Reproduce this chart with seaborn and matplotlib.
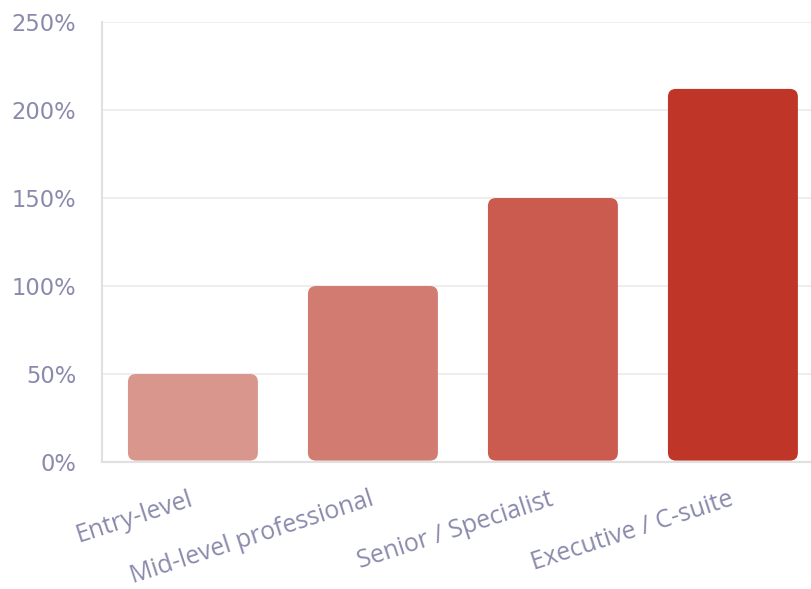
import matplotlib
matplotlib.use("Agg")
import matplotlib.pyplot as plt
import matplotlib.transforms as mtrans
import seaborn as sns
import pandas as pd
from matplotlib.patches import FancyBboxPatch
from matplotlib.ticker import FuncFormatter

categories = ["Entry-level", "Mid-level professional", "Senior / Specialist", "Executive / C-suite"]
values = [50, 100, 150, 212]
colors = ["#d9968d", "#d27b71", "#cb5b4f", "#bf3629"]
yticks = [0, 50, 100, 150, 200, 250]

sns.set_theme(style="white")
plt.rcParams['font.family'] = ['DejaVu Sans']

df = pd.DataFrame({"level": categories, "pct": values})

fig = plt.figure(figsize=(8.11, 5.89), dpi=100)
ax = fig.add_axes([0.1258, 0.2156, 0.890, 0.747])

sns.barplot(data=df, x="level", y="pct", hue="level", palette=colors,
            width=0.722, legend=False, ax=ax, saturation=1)

ax.set_xlim(-0.505, 3.505)
ax.set_ylim(0, 250)
ax.set_yticks(yticks)
ax.yaxis.set_major_formatter(FuncFormatter(lambda v, p: f"{int(v)}%"))
ax.set_xlabel("")
ax.set_ylabel("")
ax.grid(axis="y", color="#ebebeb", linewidth=1.2, zorder=0)
ax.set_axisbelow(True)

for s in ["top", "right"]:
    ax.spines[s].set_visible(False)
for s in ["left", "bottom"]:
    ax.spines[s].set_color("#e0e0e0")
    ax.spines[s].set_linewidth(1.5)

text_color = "#8a8aad"
ax.tick_params(axis="y", length=12, color="#ebebeb", width=1.2, labelsize=16.3,
               labelcolor=text_color, pad=6.5)
ax.tick_params(axis="x", length=0, labelsize=17.9, labelcolor=text_color, pad=18)
shift = mtrans.ScaledTranslation(-4 / 100, 0, fig.dpi_scale_trans)
for lab in ax.get_xticklabels():
    lab.set_rotation(18)
    lab.set_ha("right")
    lab.set_va("top")
    lab.set_rotation_mode("anchor")
    lab.set_fontfamily(["Open Sans", "DejaVu Sans"])
    lab.set_transform(lab.get_transform() + shift)

# replace bars with rounded versions
fig.canvas.draw()
px_per_x = ax.transData.transform((1, 0))[0] - ax.transData.transform((0, 0))[0]
px_per_y = ax.transData.transform((0, 1))[1] - ax.transData.transform((0, 0))[1]
r_px = 8
rx = r_px / px_per_x
ry = r_px / px_per_y
patches = list(ax.patches)
for p in patches:
    x, y = p.get_x(), p.get_y()
    w, h = p.get_width(), p.get_height()
    fc = p.get_facecolor()
    p.remove()
    fb = FancyBboxPatch((x, y + 0.8), w, h - 0.8,
                        boxstyle=f"round,pad=0,rounding_size={rx}",
                        mutation_aspect=ry / rx,
                        facecolor=fc, edgecolor="none", zorder=3)
    ax.add_patch(fb)

fig.savefig("out.png", dpi=100)
